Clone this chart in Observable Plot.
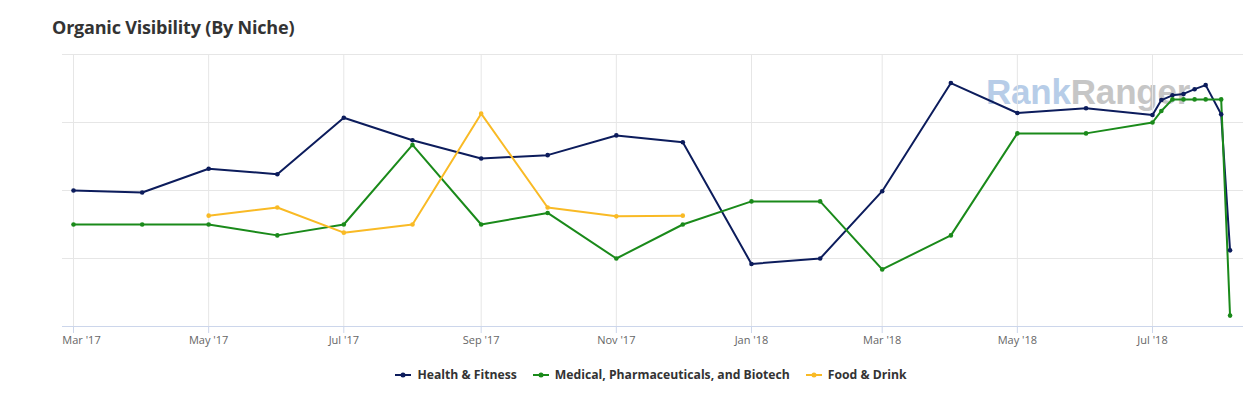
<!DOCTYPE html>
<html>
<head>
<meta charset="utf-8">
<script src="https://cdn.jsdelivr.net/npm/d3@7"></script>
<script src="https://cdn.jsdelivr.net/npm/@observablehq/plot@0.6"></script>
<style>
  html, body { margin: 0; padding: 0; background: #fff; }
  body { width: 1250px; height: 396px; position: relative; overflow: hidden; font-family: "Open Sans", "Noto Sans", sans-serif; }
  #title { position: absolute; left: 52px; top: 15px; font-size: 18px; font-weight: 700; color: #333; letter-spacing: -0.2px; }
  #wm { position: absolute; left: 986px; top: 72px; font-family: "Liberation Sans", Arial, sans-serif; font-weight: 700; font-size: 35px; letter-spacing: -0.2px; white-space: nowrap; }
  #wm .a { color: #b7cde8; }
  #wm .b { color: #c6c6c6; }
  #chart { position: absolute; left: 0; top: 44px; }
  #chart svg { position: relative; background: transparent; }
  #legend { position: absolute; top: 366px; left: 52px; width: 1198px; display: flex; justify-content: center; gap: 16px; font-size: 12.2px; font-weight: 700; color: #333; }
  #legend .item { display: flex; align-items: center; gap: 6px; }
</style>
</head>
<body>
<div id="title">Organic Visibility (By Niche)</div>
<div id="wm"><span class="a">Rank</span><span class="b">Ranger</span></div>
<div id="chart"></div>
<div id="legend"></div>
<script>
// ---- data ----
const dates = [
  "2017-03-01","2017-04-01","2017-05-01","2017-06-01","2017-07-01","2017-08-01",
  "2017-09-01","2017-10-01","2017-11-01","2017-12-01","2018-01-01","2018-02-01",
  "2018-03-01","2018-04-01","2018-05-01","2018-06-01","2018-07-01","2018-07-05",
  "2018-07-10","2018-07-15","2018-07-20","2018-07-25","2018-08-01","2018-08-05"
];
const seriesNames = ["Health & Fitness", "Medical, Pharmaceuticals, and Biotech", "Food & Drink"];
const seriesColors = ["#0c1c5c", "#1a8a1a", "#f9ba25"];
const healthFitness = [2.00,1.97,2.32,2.24,3.07,2.74,2.47,2.52,2.81,2.71,0.92,1.00,1.99,3.58,3.14,3.21,3.11,3.33,3.40,3.42,3.49,3.55,3.12,1.12];
const medical       = [1.50,1.50,1.50,1.34,1.50,2.67,1.50,1.67,1.00,1.50,1.84,1.84,0.84,1.34,2.84,2.84,3.00,3.17,3.34,3.34,3.34,3.34,3.34,0.16];
const foodDrink     = [null,null,1.63,1.75,1.38,1.50,3.13,1.75,1.62,1.63,null,null,null,null,null,null,null,null,null,null,null,null,null,null];
const tickDates = ["2017-03-01","2017-05-01","2017-07-01","2017-09-01","2017-11-01","2018-01-01","2018-03-01","2018-05-01","2018-07-01"];
const yGrid = [1, 2, 3, 4];

// ---- build table ----
const allSeries = [healthFitness, medical, foodDrink];
const table = [];
allSeries.forEach((vals, s) => {
  vals.forEach((v, i) => {
    if (v != null) table.push({series: seriesNames[s], date: new Date(dates[i] + "T00:00:00Z"), value: v});
  });
});
const ticks = tickDates.map(d => new Date(d + "T00:00:00Z"));
const fmt = d3.utcFormat("%b '%y");
const first = ticks[0];

const plot = Plot.plot({
  width: 1250,
  height: 312,
  marginTop: 10,
  marginBottom: 30,
  marginLeft: 62,
  marginRight: 7,
  style: {background: "transparent", fontFamily: "'Open Sans', 'Noto Sans', sans-serif"},
  x: {type: "utc", domain: [ticks[0], ticks[ticks.length - 1]], range: [73, 1152]},
  y: {domain: [0, 4], axis: null},
  color: {domain: seriesNames, range: seriesColors},
  marks: [
    Plot.gridX({ticks, stroke: "#e6e6e6", strokeOpacity: 1}),
    Plot.gridY({ticks: yGrid, stroke: "#e6e6e6", strokeOpacity: 1}),
    Plot.ruleY([0], {stroke: "#ccd6eb"}),
    Plot.axisX({ticks, tickSize: 7, tickPadding: 3, stroke: "#ccd6eb", fill: "#666", fontSize: 11,
      tickFormat: d => (+d === +first ? "" : fmt(d))}),
    Plot.axisX({ticks: [first], tickSize: 0, tickPadding: 10, dx: 8, fill: "#666", fontSize: 11, tickFormat: fmt}),
    Plot.line(table, {x: "date", y: "value", z: "series", stroke: "series", strokeWidth: 2}),
    Plot.dot(table, {x: "date", y: "value", fill: "series", r: 2.3})
  ]
});
document.getElementById("chart").appendChild(plot);

// ---- legend ----
const legend = document.getElementById("legend");
seriesNames.forEach((name, i) => {
  const item = document.createElement("div");
  item.className = "item";
  item.innerHTML = `<svg width="16" height="10"><line x1="0" y1="5" x2="16" y2="5" stroke="${seriesColors[i]}" stroke-width="2"/><circle cx="8" cy="5" r="2.5" fill="${seriesColors[i]}"/></svg><span>${name}</span>`;
  legend.appendChild(item);
});
</script>
</body>
</html>
